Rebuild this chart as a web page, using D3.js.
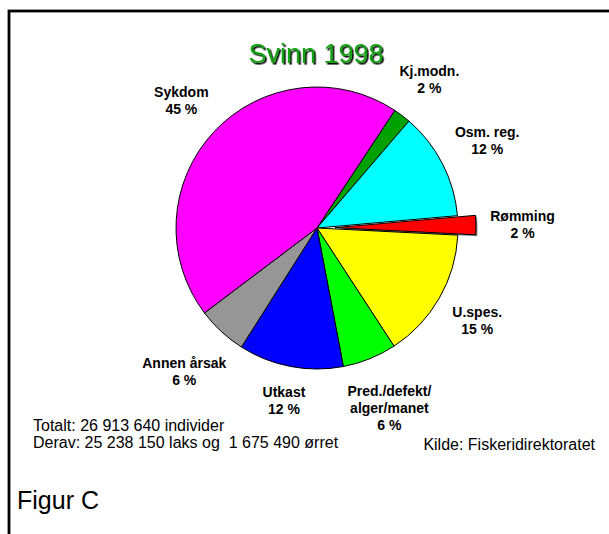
<!DOCTYPE html>
<html>
<head>
<meta charset="utf-8">
<style>
  body { margin: 0; background: #fff; }
  text { font-family: "Liberation Sans", Arial, sans-serif; }
</style>
</head>
<body>
<svg></svg>
<script src="https://cdnjs.cloudflare.com/ajax/libs/d3/7.8.5/d3.min.js"></script>
<script>
  // slices, clockwise, starting with Kj.modn.
  const causes = ["Kj.modn.", "Osm. reg.", "Rømming", "U.spes.", "Pred./defekt/\nalger/manet", "Utkast", "Annen årsak", "Sykdom"];
  const shares = [2.0, 12.3, 2.2, 15.0, 6.2, 12.0, 5.7, 44.6];
  const colors = ["#00a000", "#00ffff", "#ff0000", "#ffff00", "#00ff00", "#0000ff", "#969696", "#ff00ff"];
  const exploded = ["Rømming"];

  const title = "Svinn 1998";
  const notes = ["Totalt: 26 913 640 individer", "Derav: 25 238 150 laks og  1 675 490 ørret"];
  const source = "Kilde: Fiskeridirektoratet";
  const figLabel = "Figur C";

  const width = 609, height = 534;
  const cx = 317, cy = 228, r = 141;
  const explode = 18, gap = 14;

  const svg = d3.select("svg").attr("width", width).attr("height", height);

  // shadow filter for the title
  const defs = svg.append("defs");
  const f = defs.append("filter").attr("id", "shadow")
      .attr("x", "-10%").attr("y", "-20%").attr("width", "130%").attr("height", "150%");
  f.append("feDropShadow")
      .attr("dx", 1.6).attr("dy", 1.6).attr("stdDeviation", 0.3)
      .attr("flood-color", "#111").attr("flood-opacity", 1);

  // frame (runs off the right and bottom edges)
  svg.append("rect")
      .attr("x", 9).attr("y", 11)
      .attr("width", 700).attr("height", 700)
      .attr("fill", "none").attr("stroke", "#000").attr("stroke-width", 2.8);

  svg.append("text")
      .attr("x", 316).attr("y", 63)
      .attr("text-anchor", "middle")
      .style("font-size", "27px")
      .attr("fill", "#14a014")
      .attr("filter", "url(#shadow)")
      .text(title);

  const data = causes.map((c, i) => ({ cause: c, value: shares[i], color: colors[i] }));

  const pie = d3.pie()
      .sort(null)
      .value(d => d.value)
      .startAngle(33.5 * Math.PI / 180)
      .endAngle(33.5 * Math.PI / 180 + 2 * Math.PI);

  const arc = d3.arc().innerRadius(0).outerRadius(r);
  const arcs = pie(data);

  const g = svg.append("g").attr("transform", `translate(${cx},${cy})`);

  function shift(d) {
    if (!exploded.includes(d.data.cause)) return [0, 0];
    const a = (d.startAngle + d.endAngle) / 2;
    return [Math.sin(a) * explode, -Math.cos(a) * explode];
  }

  // grey shadow behind the exploded slice
  g.selectAll(".shadow")
    .data(arcs.filter(d => exploded.includes(d.data.cause)))
    .join("path")
      .attr("class", "shadow")
      .attr("d", arc)
      .attr("transform", d => { const s = shift(d); return `translate(${s[0] + 1.5},${s[1] + 1.5})`; })
      .attr("fill", "#808080");

  g.selectAll(".slice")
    .data(arcs)
    .join("path")
      .attr("class", "slice")
      .attr("d", arc)
      .attr("transform", d => { const s = shift(d); return `translate(${s[0]},${s[1]})`; })
      .attr("fill", d => d.data.color)
      .attr("stroke", "#000")
      .attr("stroke-width", 1)
      .attr("stroke-linejoin", "round");

  // outside labels: name + rounded percentage
  const pct = d => Math.round(d.data.value) + " %";
  const lineH = 17;

  const labels = g.selectAll(".label")
    .data(arcs)
    .join("text")
      .attr("class", "label")
      .attr("text-anchor", "middle")
      .style("font-size", "14px")
      .style("font-weight", "bold")
      .attr("fill", "#000");

  labels.each(function (d) {
    const t = d3.select(this);
    const lines = d.data.cause.split("\n").concat([pct(d)]);
    t.selectAll("tspan")
      .data(lines)
      .join("tspan")
        .attr("x", 0)
        .attr("dy", (l, i) => i === 0 ? 0 : lineH)
        .text(l => l);
    const bb = this.getBBox();
    const a = (d.startAngle + d.endAngle) / 2;
    const ux = Math.sin(a), uy = -Math.cos(a);
    const s = shift(d);
    const dist = r + gap + (bb.width / 2) * Math.abs(ux) + (bb.height / 2) * Math.abs(uy);
    const mx = s[0] + ux * dist, my = s[1] + uy * dist;
    const ox = mx - (bb.x + bb.width / 2), oy = my - (bb.y + bb.height / 2);
    t.attr("transform", `translate(${ox},${oy})`);
  });

  // footnotes
  svg.append("text")
      .attr("x", 33).attr("y", 430.5)
      .style("font-size", "16px")
      .selectAll("tspan")
      .data(notes)
      .join("tspan")
        .attr("x", 33)
        .attr("dy", (l, i) => i === 0 ? 0 : 17)
        .style("white-space", "pre")
        .text(l => l);

  svg.append("text")
      .attr("x", 595).attr("y", 449.5)
      .attr("text-anchor", "end")
      .style("font-size", "16px")
      .text(source);

  svg.append("text")
      .attr("x", 17).attr("y", 509)
      .style("font-size", "25px")
      .text(figLabel);
</script>
</body>
</html>
